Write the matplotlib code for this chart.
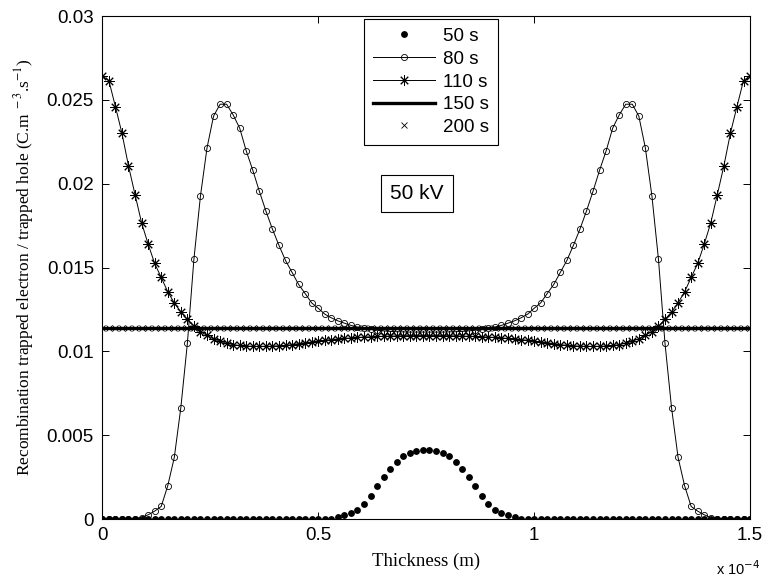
import numpy as np
import matplotlib
matplotlib.use("Agg")
import matplotlib.pyplot as plt
from matplotlib.ticker import FuncFormatter

plt.rcParams["font.family"] = ["Liberation Sans", "DejaVu Sans"]
plt.rcParams["mathtext.fontset"] = "stix"

# thickness grid across the sample (m)
thickness = np.linspace(0, 1.5e-4, 100)

# recombination rate trapped electron / trapped hole (C.m-3.s-1) at each time
t50 = [
    0.0, 0.0, 0.0, 0.0, 0.0, 0.0, 0.0, 0.0, 0.0, 0.0,
    0.0, 0.0, 0.0, 0.0, 0.0, 0.0, 0.0, 0.0, 0.0, 0.0,
    0.0, 0.0, 0.0, 0.0, 0.0, 0.0, 0.0, 0.0, 0.0, 0.0,
    0.0, 0.0, 0.0, 0.0, 0.0, 0.00003, 0.0001, 0.00022, 0.00033, 0.00052,
    0.0009, 0.0014, 0.00195, 0.0025, 0.00298, 0.0034, 0.00373, 0.00395, 0.00407, 0.00412,
    0.00412, 0.00407, 0.00395, 0.00373, 0.0034, 0.00298, 0.0025, 0.00195, 0.0014, 0.0009,
    0.00052, 0.00033, 0.00022, 0.0001, 0.00003, 0.0, 0.0, 0.0, 0.0, 0.0,
    0.0, 0.0, 0.0, 0.0, 0.0, 0.0, 0.0, 0.0, 0.0, 0.0,
    0.0, 0.0, 0.0, 0.0, 0.0, 0.0, 0.0, 0.0, 0.0, 0.0,
    0.0, 0.0, 0.0, 0.0, 0.0, 0.0, 0.0, 0.0, 0.0, 0.0,
]
t80 = [
    0.0, 0.0, 0.0, 0.0, 0.0, 0.00003, 0.00009, 0.00025, 0.00047, 0.00075,
    0.00198, 0.00367, 0.00664, 0.01048, 0.0155, 0.01927, 0.02213, 0.02403, 0.02474, 0.02474,
    0.0241, 0.02331, 0.02195, 0.0208, 0.01955, 0.01837, 0.01729, 0.01632, 0.01542, 0.01471,
    0.01399, 0.01345, 0.01289, 0.01257, 0.01222, 0.012, 0.01182, 0.01168, 0.01155, 0.01145,
    0.01137, 0.01131, 0.01126, 0.01122, 0.01119, 0.01117, 0.01116, 0.01115, 0.01115, 0.01115,
    0.01115, 0.01115, 0.01115, 0.01116, 0.01117, 0.01119, 0.01122, 0.01126, 0.01131, 0.01137,
    0.01145, 0.01155, 0.01168, 0.01182, 0.012, 0.01222, 0.01257, 0.01289, 0.01345, 0.01399,
    0.01471, 0.01542, 0.01632, 0.01729, 0.01837, 0.01955, 0.0208, 0.02195, 0.02331, 0.0241,
    0.02474, 0.02474, 0.02403, 0.02213, 0.01927, 0.0155, 0.01048, 0.00664, 0.00367, 0.00198,
    0.00075, 0.00047, 0.00025, 0.00009, 0.00003, 0.0, 0.0, 0.0, 0.0, 0.0,
]
t110 = [
    0.02643, 0.02615, 0.0246, 0.02301, 0.02106, 0.01935, 0.01767, 0.0164, 0.01524, 0.01441,
    0.01355, 0.01289, 0.01235, 0.0119, 0.0115, 0.01118, 0.01095, 0.01075, 0.0106, 0.01048,
    0.0104, 0.01035, 0.01032, 0.0103, 0.0103, 0.0103, 0.01031, 0.01033, 0.01036, 0.0104,
    0.01046, 0.01051, 0.01056, 0.01061, 0.01066, 0.0107, 0.01074, 0.01077, 0.0108, 0.01083,
    0.01085, 0.01087, 0.01089, 0.0109, 0.01091, 0.01092, 0.01093, 0.01094, 0.01094, 0.01094,
    0.01094, 0.01094, 0.01094, 0.01093, 0.01092, 0.01091, 0.0109, 0.01089, 0.01087, 0.01085,
    0.01083, 0.0108, 0.01077, 0.01074, 0.0107, 0.01066, 0.01061, 0.01056, 0.01051, 0.01046,
    0.0104, 0.01036, 0.01033, 0.01031, 0.0103, 0.0103, 0.0103, 0.01032, 0.01035, 0.0104,
    0.01048, 0.0106, 0.01075, 0.01095, 0.01118, 0.0115, 0.0119, 0.01235, 0.01289, 0.01355,
    0.01441, 0.01524, 0.0164, 0.01767, 0.01935, 0.02106, 0.02301, 0.0246, 0.02615, 0.02643,
]
t150 = [0.0114] * 100
t200 = [0.0114] * 100

labels = ["50 s", "80 s", "110 s", "150 s", "200 s"]

fig = plt.figure(figsize=(7.67, 5.85), dpi=100)
ax = fig.add_axes([0.1334, 0.1128, 0.8445, 0.8598])

ax.plot(thickness, t50, linestyle="none", marker="o", ms=3.9, color="black",
        label=labels[0])
ax.plot(thickness, t80, color="black", lw=0.7, marker="o", ms=4.4,
        mfc="none", mew=0.6, label=labels[1])
ax.plot(thickness, t110, color="black", lw=0.7, marker=(8, 2, 0), ms=7.5,
        mew=0.7, label=labels[2])
ax.plot(thickness, t150, color="black", lw=2.4, label=labels[3])
ax.plot(thickness, t200, linestyle="none", marker="x", ms=4.5, mew=0.6,
        color="black", label=labels[4])

ax.set_xlim(0, 1.5e-4)
ax.set_ylim(0, 0.03)
ax.set_xticks([0, 0.5e-4, 1e-4, 1.5e-4])
ax.xaxis.set_major_formatter(FuncFormatter(lambda v, p: f"{v / 1e-4:g}"))
ax.set_yticks([0, 0.005, 0.01, 0.015, 0.02, 0.025, 0.03])
ax.yaxis.set_major_formatter(FuncFormatter(lambda v, p: f"{v:g}"))
ax.tick_params(direction="in", top=True, right=True, length=5, width=0.7,
               labelsize=13.5, pad=6)
for s in ax.spines.values():
    s.set_linewidth(0.8)

ax.set_xlabel("Thickness (m)", family="Liberation Serif", fontsize=13.5, labelpad=6)
ax.set_ylabel(r"Recombination trapped electron / trapped hole (C.m$^{\ -3}$.s$^{-1}$)",
              family="Liberation Serif", fontsize=12.5, labelpad=8)

# axis multiplier under the right end of the x axis
fig.text(0.934, 0.012, r"x 10$^{-4}$", fontsize=10.5, ha="left", va="bottom",
         math_fontfamily="dejavusans")

leg = ax.legend(loc="upper left", bbox_to_anchor=(0.404, 0.995), borderaxespad=0,
                fontsize=13.5, numpoints=1, handlelength=3.3, handletextpad=0.4,
                labelspacing=0.3, borderpad=0.5, fancybox=False,
                edgecolor="black", framealpha=1)
leg.get_frame().set_linewidth(0.8)

ax.text(0.486, 0.647, "50 kV", transform=ax.transAxes, fontsize=15,
        ha="center", va="center",
        bbox=dict(boxstyle="square,pad=0.45", facecolor="white",
                  edgecolor="black", linewidth=0.8))

fig.savefig("out.png", dpi=100, facecolor="white")
